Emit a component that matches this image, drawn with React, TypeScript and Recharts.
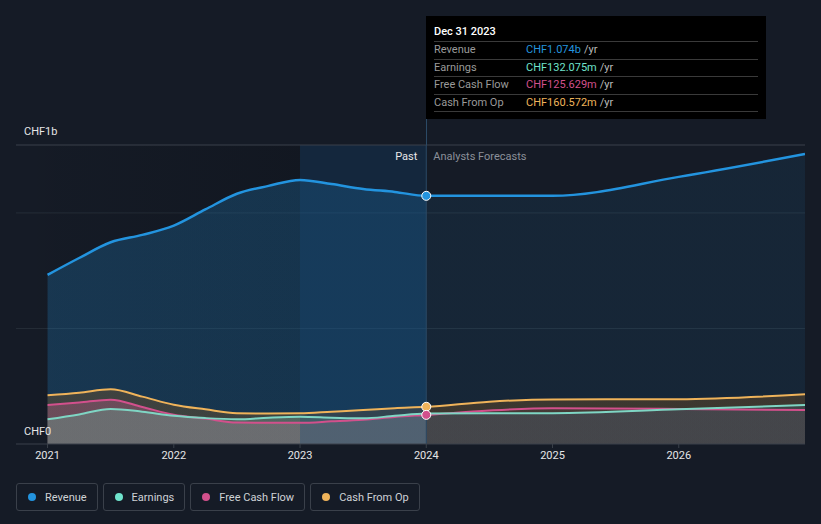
import { ComposedChart, Area, Line, XAxis, YAxis, CartesianGrid, ReferenceLine, ReferenceArea, ReferenceDot } from "recharts";

// quarterly history to end of 2023, then annual analyst forecasts
const periods = [
  2021.0, 2021.25, 2021.5, 2021.75, 2022.0, 2022.25, 2022.5, 2022.75,
  2023.0, 2023.25, 2023.5, 2023.75, 2024.0, 2024.5, 2025.0, 2026.0, 2027.0,
];
// CHF billions
const revenue = [
  0.732, 0.805, 0.873, 0.905, 0.945, 1.015, 1.083, 1.117,
  1.143, 1.125, 1.104, 1.091, 1.074, 1.074, 1.074, 1.156, 1.255,
];
const earnings = [
  0.107, 0.128, 0.152, 0.14, 0.122, 0.112, 0.107, 0.114,
  0.118, 0.114, 0.111, 0.122, 0.132, 0.133, 0.133, 0.15, 0.169,
];
const freeCashFlow = [
  0.169, 0.18, 0.192, 0.16, 0.127, 0.11, 0.093, 0.092,
  0.092, 0.098, 0.105, 0.117, 0.126, 0.145, 0.155, 0.152, 0.147,
];
const cashFromOp = [
  0.211, 0.222, 0.237, 0.205, 0.17, 0.15, 0.133, 0.132,
  0.133, 0.14, 0.147, 0.155, 0.161, 0.183, 0.193, 0.194, 0.215,
];

const xTicks = [2021, 2022, 2023, 2024, 2025, 2026];
const yGrid = [0.5, 1];
const yLabels = ["CHF1b", "CHF0"];
const tooltipTitle = "Dec 31 2023";
const tooltipValues = ["CHF1.074b", "CHF132.075m", "CHF125.629m", "CHF160.572m"];

const seriesNames = ["Revenue", "Earnings", "Free Cash Flow", "Cash From Op"];
const colors = ["#2394df", "#6fe3cc", "#d2508c", "#efb35a"];

const nowIdx = periods.indexOf(2024);
const yMax = 1.294;

const data = periods.map((p, i) => ({
  t: p,
  revenue: revenue[i],
  earnings: earnings[i],
  fcf: freeCashFlow[i],
  cfo: cashFromOp[i],
}));

const font = "Roboto, 'Noto Sans', sans-serif";

// past / forecast split of a fill (area spans 2021..2027, so 2024 is the middle)
function Split({ id, past, pastOp, fut, futOp }: any) {
  return (
    <linearGradient id={id} x1="0" y1="0" x2="1" y2="0">
      <stop offset="0%" stopColor={past} stopOpacity={pastOp} />
      <stop offset="50%" stopColor={past} stopOpacity={pastOp} />
      <stop offset="50%" stopColor={fut} stopOpacity={futOp} />
      <stop offset="100%" stopColor={fut} stopOpacity={futOp} />
    </linearGradient>
  );
}

function DividerLabel(props: any) {
  const { viewBox } = props;
  const x = viewBox.x;
  const y = viewBox.y + 15;
  return (
    <g fontFamily={font} fontSize={11}>
      <text x={x - 9} y={y} textAnchor="end" fill="#e8e8e8">Past</text>
      <text x={x + 7} y={y} textAnchor="start" fill="#8b9099">Analysts Forecasts</text>
    </g>
  );
}

export default function App() {
  return (
    <div style={{ position: "absolute", left: 0, top: 0, width: 821, height: 524, background: "#151b26", fontFamily: font, overflow: "hidden" }}>
      <ComposedChart width={821} height={480} data={data} margin={{ top: 145, right: 16, bottom: 6, left: 16 }}>
        <defs>
          {Split({ id: "revFill", past: "#2394df", pastOp: 0.23, fut: "#2394df", futOp: 0.09 })}
          {Split({ id: "cfoFill", past: "#8a5a20", pastOp: 0.34, fut: "#8a5a20", futOp: 0.33 })}
          {Split({ id: "fcfFill", past: "#d36497", pastOp: 0.3, fut: "#d36497", futOp: 0.06 })}
          {Split({ id: "earnFill", past: "#6a9a8f", pastOp: 0.42, fut: "#40759e", futOp: 0.2 })}
          <linearGradient id="shade" x1="0" y1="0" x2="1" y2="0">
            <stop offset="0%" stopColor="#05070b" stopOpacity={0} />
            <stop offset="100%" stopColor="#05070b" stopOpacity={0.18} />
          </linearGradient>
        </defs>
        <CartesianGrid vertical={false} stroke="#262d38" horizontalValues={yGrid} />
        <XAxis
          type="number"
          dataKey="t"
          domain={[2020.75, 2027]}
          ticks={xTicks}
          allowDataOverflow
          tick={{ fill: "#e6e6e6", fontSize: 11, fontFamily: font }}
          tickLine={{ stroke: "#3a404a" }}
          tickSize={4}
          tickMargin={3}
          axisLine={{ stroke: "#3a404a" }}
          height={30}
        />
        <YAxis hide domain={[0, yMax]} allowDataOverflow />
        <ReferenceArea x1={2020.75} x2={2023} y1={0} y2={yMax} fill="url(#shade)" fillOpacity={1} stroke="none" ifOverflow="hidden" />
        <ReferenceLine y={yMax} stroke="#3a404a" />
        <Area type="monotone" dataKey="revenue" stroke="none" fill="url(#revFill)" fillOpacity={1} dot={false} activeDot={false} isAnimationActive={false} />
        <Area type="monotone" dataKey="cfo" stroke="none" fill="url(#cfoFill)" fillOpacity={1} dot={false} activeDot={false} isAnimationActive={false} />
        <Area type="monotone" dataKey="fcf" stroke="none" fill="url(#fcfFill)" fillOpacity={1} dot={false} activeDot={false} isAnimationActive={false} />
        <Area type="monotone" dataKey="earnings" stroke="none" fill="url(#earnFill)" fillOpacity={1} dot={false} activeDot={false} isAnimationActive={false} />
        <ReferenceArea x1={2023} x2={2024} y1={0} y2={yMax} fill="#144673" fillOpacity={0.3} stroke="none" ifOverflow="hidden" />
        <Line type="monotone" dataKey="revenue" stroke={colors[0]} strokeWidth={2.5} dot={false} activeDot={false} isAnimationActive={false} />
        <Line type="monotone" dataKey="cfo" stroke={colors[3]} strokeWidth={2} dot={false} activeDot={false} isAnimationActive={false} />
        <Line type="monotone" dataKey="fcf" stroke={colors[2]} strokeWidth={2} dot={false} activeDot={false} isAnimationActive={false} />
        <Line type="monotone" dataKey="earnings" stroke="#7fd6c4" strokeWidth={2} dot={false} activeDot={false} isAnimationActive={false} />
        <ReferenceLine x={2024} stroke="#2b4a66" label={<DividerLabel />} />
        <ReferenceDot x={2024} y={revenue[nowIdx]} r={4.5} fill={colors[0]} stroke="#ffffff" strokeWidth={1} />
        <ReferenceDot x={2024} y={cashFromOp[nowIdx]} r={4.5} fill={colors[3]} stroke="#ffffff" strokeWidth={1} />
        <ReferenceDot x={2024} y={freeCashFlow[nowIdx]} r={4.5} fill={colors[2]} stroke="#ffffff" strokeWidth={1} />
      </ComposedChart>

      {/* y labels */}
      <div style={{ position: "absolute", left: 24, top: 125, fontSize: 11, color: "#e6e6e6" }}>{yLabels[0]}</div>
      <div style={{ position: "absolute", left: 24, top: 425, fontSize: 11, color: "#e6e6e6" }}>{yLabels[1]}</div>

      {/* cursor line between tooltip and plot */}
      <div style={{ position: "absolute", left: 426, top: 119, width: 1, height: 26, background: "#2b4a66" }} />

      {/* tooltip */}
      <div style={{ position: "absolute", left: 426, top: 16, width: 340, height: 103, background: "#000000", boxSizing: "border-box", padding: "0 8px" }}>
        <div style={{ height: 25, lineHeight: "31px", fontSize: 11, color: "#ffffff", fontWeight: 500, borderBottom: "1px solid #3a3a3a" }}>{tooltipTitle}</div>
        {seriesNames.map((n, i) => (
          <div key={n} style={{ height: 16.5, lineHeight: "16.5px", fontSize: 11, borderBottom: "1px solid #3a3a3a", display: "flex" }}>
            <span style={{ width: 92, color: "#9a9a9a" }}>{n}</span>
            <span style={{ color: colors[i] }}>{tooltipValues[i]}</span>
            <span style={{ color: "#bbbbbb", marginLeft: 3 }}>/yr</span>
          </div>
        ))}
      </div>

      {/* legend */}
      <div style={{ position: "absolute", left: 16, top: 483, display: "flex", gap: 5 }}>
        {seriesNames.map((n, i) => (
          <div key={n} style={{ height: 26, border: "1px solid #3a404a", borderRadius: 3, display: "flex", alignItems: "center", padding: "0 10px 0 11px", fontSize: 11, color: "#cfd2d6" }}>
            <span style={{ width: 8, height: 8, borderRadius: 4, background: colors[i], marginRight: 9 }} />
            {n}
          </div>
        ))}
      </div>
    </div>
  );
}
